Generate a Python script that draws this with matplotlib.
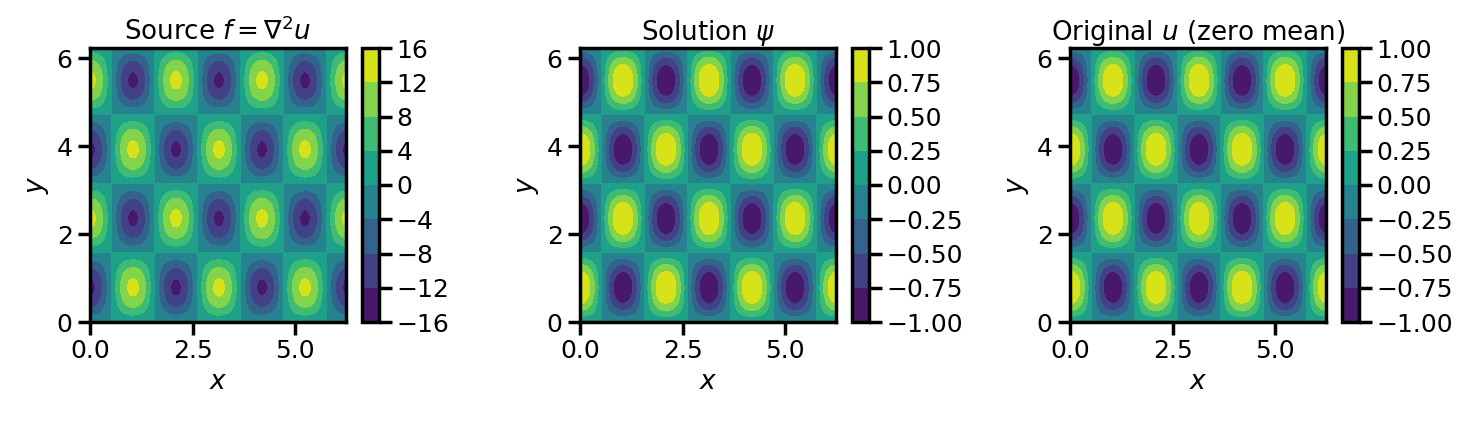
import numpy as np
import matplotlib
matplotlib.use("Agg")
import matplotlib.pyplot as plt
from matplotlib.ticker import MultipleLocator

plt.rcParams.update({"axes.edgecolor": "black", "axes.linewidth": 2.5,
                     "font.size": 18, "axes.titlesize": 18.8, "axes.labelsize": 19,
                     "xtick.labelsize": 18, "ytick.labelsize": 18,
                     "xtick.major.width": 2.5, "ytick.major.width": 2.5,
                     "xtick.major.size": 9, "ytick.major.size": 9})

kx = 3
ky = 2
n = 128
titles = ["Source $f=\\nabla^2 u$", "Solution $\\psi$", "Original $u$ (zero mean)"]

x = np.linspace(0, 2*np.pi, n, endpoint=False)
y = np.linspace(0, 2*np.pi, n, endpoint=False)
X, Y = np.meshgrid(x, y)
u = np.cos(kx*X)*np.sin(ky*Y)
f = -(kx**2 + ky**2)*u
fields = [f, u, u]

W, H = 1472, 422
fig = plt.figure(figsize=(W/100, H/100), dpi=100)
lefts = [90, 580, 1070]
for l, F, t in zip(lefts, fields, titles):
    ax = fig.add_axes([l/W, 1-322/H, 256/W, 274/H])
    cax = fig.add_axes([(l+272)/W, 1-322/H, 17/W, 274/H])
    cs = ax.contourf(X, Y, F, cmap="viridis")
    ax.xaxis.set_major_locator(MultipleLocator(2.5))
    ax.yaxis.set_major_locator(MultipleLocator(2))
    cb = fig.colorbar(cs, cax=cax)
    cb.outline.set_linewidth(2.5)
    ax.set_title(t)
    ax.set_xlabel("$x$")
    ax.set_ylabel("$y$")
fig.savefig("out.png")
